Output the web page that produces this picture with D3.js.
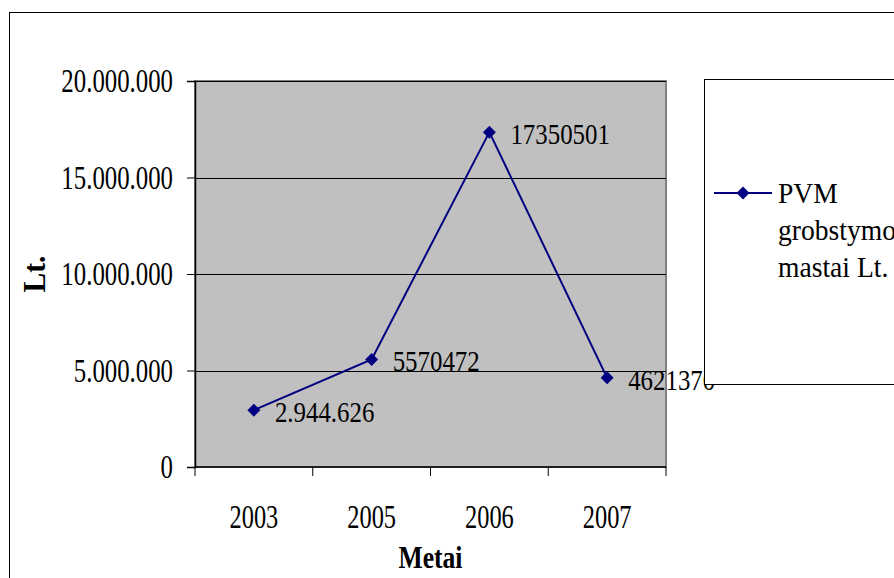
<!DOCTYPE html>
<html>
<head>
<meta charset="utf-8">
<script src="https://cdn.jsdelivr.net/npm/d3@7"></script>
<style>
  html, body { margin: 0; padding: 0; background: #fff; overflow: hidden; }
  svg { display: block; }
  text { font-family: "Liberation Serif", "Times New Roman", serif; fill: #000; }
</style>
</head>
<body>
<svg id="chart" width="894" height="578"></svg>
<script>
// Years on the category axis
const years = ["2003", "2005", "2006", "2007"];
// PVM grobstymo mastai, Lt.
const values = [2944626, 5570472, 17350501, 4621370];
// Data labels as they are printed next to each point
const pointLabels = ["2.944.626", "5570472", "17350501", "4621370"];
// Value axis ticks
const yTicks = [0, 5000000, 10000000, 15000000, 20000000];
const seriesName = ["PVM", "grobstymo", "mastai Lt."];
const xTitle = "Metai";
const yTitle = "Lt.";

const W = 894, H = 578;
const plot = { left: 195, right: 666, top: 81, bottom: 467 };
const lineColor = "#000080";

const svg = d3.select("#chart");

const locale = d3.formatLocale({ decimal: ",", thousands: ".", grouping: [3], currency: ["", ""] });
const fmt = locale.format(",d");

const x = d3.scaleBand().domain(years).range([plot.left, plot.right]);
const y = d3.scaleLinear().domain([0, 20000000]).range([plot.bottom, plot.top]);

// narrow serif text, like the condensed print face
function squeezed(g, str, px, py, size, sx, anchor, weight) {
  return g.append("text")
    .attr("transform", `translate(${px},${py}) scale(${sx},1)`)
    .attr("text-anchor", anchor || "start")
    .attr("font-size", size)
    .attr("font-weight", weight || "normal")
    .text(str);
}

// outer chart frame
svg.append("rect")
  .attr("x", 9.5).attr("y", 12.5)
  .attr("width", W + 20).attr("height", H + 20)
  .attr("fill", "#fff").attr("stroke", "#000").attr("stroke-width", 1);

// plot area
svg.append("rect")
  .attr("x", plot.left).attr("y", plot.top)
  .attr("width", plot.right - plot.left).attr("height", plot.bottom - plot.top)
  .attr("fill", "#c0c0c0").attr("stroke", "#808080").attr("stroke-width", 2);

// horizontal gridlines
svg.append("g").selectAll("line")
  .data(yTicks.filter(d => d > 0))
  .join("line")
  .attr("x1", plot.left).attr("x2", plot.right)
  .attr("y1", d => Math.round(y(d)) + 0.5).attr("y2", d => Math.round(y(d)) + 0.5)
  .attr("stroke", "#000").attr("stroke-width", 1);

// y axis
const yAxis = svg.append("g").attr("transform", `translate(${plot.left},0)`)
  .call(d3.axisLeft(y).tickValues(yTicks).tickSize(8).tickFormat(""));
yAxis.select(".domain").attr("stroke", "#000").attr("stroke-width", 1.5);
yAxis.selectAll(".tick line").attr("stroke", "#000");
yTicks.forEach(t => squeezed(svg, fmt(t), 173, y(t) + 11, 34, 0.73, "end"));

// x axis with ticks on category boundaries
svg.append("line")
  .attr("x1", plot.left).attr("x2", plot.right)
  .attr("y1", plot.bottom).attr("y2", plot.bottom)
  .attr("stroke", "#000").attr("stroke-width", 1.5);
const bounds = years.map(d => x(d)).concat([x.range()[1]]);
svg.append("g").selectAll("line").data(bounds).join("line")
  .attr("x1", d => d).attr("x2", d => d)
  .attr("y1", plot.bottom).attr("y2", plot.bottom + 9)
  .attr("stroke", "#000");
years.forEach(yr => squeezed(svg, yr, x(yr) + x.bandwidth() / 2, 528, 33, 0.74, "middle"));

// axis titles
squeezed(svg, xTitle, (plot.left + plot.right) / 2, 568, 32, 0.8, "middle", "bold");
svg.append("text")
  .attr("transform", `translate(45,274) rotate(-90) scale(0.92,1)`)
  .attr("text-anchor", "middle")
  .attr("font-size", 32).attr("font-weight", "bold")
  .text(yTitle);

// series line
const cx = d => x(d) + x.bandwidth() / 2;
const line = d3.line().x((d, i) => cx(years[i])).y(d => y(d));
svg.append("path").datum(values)
  .attr("d", line).attr("fill", "none")
  .attr("stroke", lineColor).attr("stroke-width", 2);

const diamond = r => `M0,${-r}L${r},0L0,${r}L${-r},0Z`;
svg.append("g").selectAll("path").data(values).join("path")
  .attr("transform", (d, i) => `translate(${cx(years[i])},${y(d)})`)
  .attr("d", diamond(6.5)).attr("fill", lineColor);

// point labels
values.forEach((v, i) => squeezed(svg, pointLabels[i], cx(years[i]) + 21, y(v) + 12, 30, 0.83, "start"));

// legend box
const leg = svg.append("g");
leg.append("rect")
  .attr("x", 704.5).attr("y", 79.5).attr("width", 260).attr("height", 305)
  .attr("fill", "#fff").attr("stroke", "#000").attr("stroke-width", 1);
leg.append("line")
  .attr("x1", 714).attr("x2", 772).attr("y1", 193).attr("y2", 193)
  .attr("stroke", lineColor).attr("stroke-width", 2);
leg.append("path").attr("transform", "translate(743,193)")
  .attr("d", diamond(6.5)).attr("fill", lineColor);
seriesName.forEach((s, i) => squeezed(leg, s, 778, 203 + i * 37, 30, 0.92, "start"));
</script>
</body>
</html>
